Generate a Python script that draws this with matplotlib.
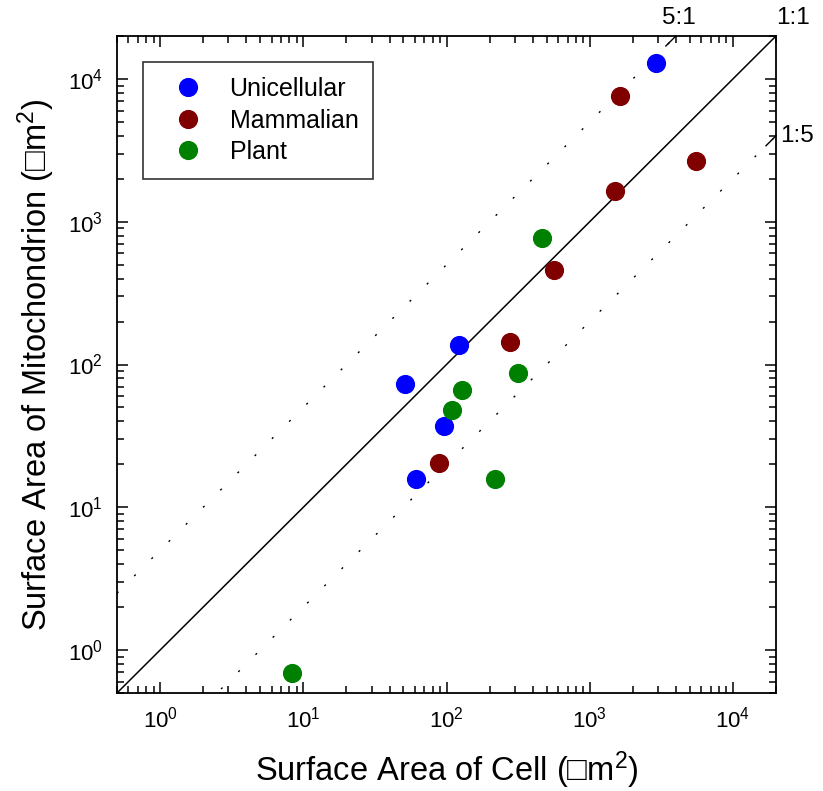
import numpy as np
import matplotlib
matplotlib.use("Agg")
import matplotlib.pyplot as plt

plt.rcParams['font.family'] = ['Liberation Sans', 'DejaVu Sans']
plt.rcParams['mathtext.fontset'] = 'custom'
plt.rcParams['mathtext.rm'] = 'Liberation Sans'
plt.rcParams['mathtext.it'] = 'Liberation Sans:italic'

# Data (surface areas, um^2)
uni_cell = [2918, 123, 51, 95.3, 60.9]
uni_mito = [12940, 138, 73.6, 36.9, 15.7]
mam_cell = [1641, 5534, 1492, 562, 278, 88]
mam_mito = [7603, 2671, 1648, 462, 142.6, 20.3]
pla_cell = [464, 316, 129, 110, 219, 8.39]
pla_mito = [773, 86.5, 65.8, 47.7, 15.7, 0.69]

series = [
    ("Unicellular", uni_cell, uni_mito, "#0000FF"),
    ("Mammalian", mam_cell, mam_mito, "#800000"),
    ("Plant", pla_cell, pla_mito, "#008000"),
]
ratios = [(5.0, "5:1"), (1.0, "1:1"), (0.2, "1:5")]
xlim = (0.5, 2e4)
ylim = (0.5, 2e4)

fig = plt.figure(figsize=(8.23, 7.91), dpi=100)
ax = fig.add_axes([117/823, 1-693/791, 659/823, 657/791])
ax.set_xscale('log')
ax.set_yscale('log')
ax.set_xlim(*xlim)
ax.set_ylim(*ylim)

xs = np.logspace(np.log10(xlim[0]), np.log10(xlim[1]), 400)
for r, lab in ratios:
    ys = r * xs
    if r == 1.0:
        ax.plot(xs, ys, color='black', lw=1.1, zorder=2)
        xe, ye = xlim[1], ylim[1]
        off = (12, 13)
    else:
        ax.plot(xs, ys, color='black', lw=1.0, linestyle=(0, (1.5, 16)), zorder=2)
        if r > 1:
            xe, ye = ylim[1] / r, ylim[1]
            off = (2, 13)
        else:
            xe, ye = xlim[1], xlim[1] * r
            off = (15, 0)
        xs2 = np.array([xe / 10**0.07, xe])
        ax.plot(xs2, r * xs2, color='black', lw=1.0, zorder=2, clip_on=False)
    ax.annotate(lab, xy=(xe, ye), xytext=off, textcoords='offset points',
                ha='center', va='center', fontsize=17.5, annotation_clip=False)

for name, cx, cy, col in series:
    ax.plot(cx, cy, 'o', ms=12.8, color=col, mec=col, label=name, zorder=3, linestyle='none')

leg = ax.legend(loc='upper left', bbox_to_anchor=(26/659, 1-26/657), fontsize=18,
                frameon=True, fancybox=False, edgecolor='black', borderpad=0.6,
                handletextpad=0.46, labelspacing=0.3, borderaxespad=0, handlelength=2.4)
leg.get_frame().set_linewidth(1.2)

for s in ax.spines.values():
    s.set_linewidth(1.3)
ax.tick_params(which='both', direction='in', top=True, right=True, labelsize=16, width=1.1)
ax.tick_params(which='major', length=8, pad=10)
ax.tick_params(which='minor', length=5)
ax.set_xticks([1, 10, 100, 1000, 10000])
ax.set_yticks([1, 10, 100, 1000, 10000])
ax.set_xticklabels([r'$10^{%d}$' % i for i in range(5)])
ax.set_yticklabels([r'$10^{%d}$' % i for i in range(5)])

ax.set_xlabel("Surface Area of Cell (\u25a1m$^2$)", fontsize=23.5, labelpad=12)
ax.set_ylabel("Surface Area of Mitochondrion (\u25a1m$^2$)", fontsize=23.5, labelpad=8)

fig.savefig("out.png", dpi=100)
